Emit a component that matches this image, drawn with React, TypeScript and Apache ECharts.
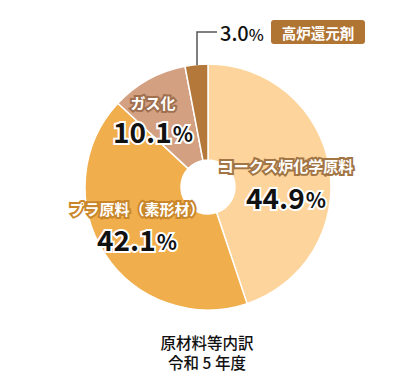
import React, { useEffect, useRef } from "react";
import * as echarts from "echarts";

const categories = ["コークス炉化学原料", "プラ原料（素形材）", "ガス化", "高炉還元剤"];
const values = [44.9, 42.1, 10.1, 3.0];
const titleLines = ["原材料等内訳", "令和 5 年度"];

const sliceColors = ["#FDD49B", "#F0AE4C", "#D3A082", "#B3783A"];
const outlineColors = ["#A27545", "#C9862A", "#A0704F"];
// label anchor positions (name center, percent center) for the three large slices
const labelPos = [
  { x: 286, yName: 165, yVal: 197 },
  { x: 137, yName: 208, yVal: 239 },
  { x: 153, yName: 102, yVal: 131 },
];

const FONT = '"Noto Sans CJK JP", "Noto Sans", sans-serif';

function outlinedText(x: number, y: number, text: string, rich: any, baseStyle: any, stroke: string, fill: string, lw: number) {
  const mk = (isStroke: boolean) => {
    const r: any = {};
    Object.keys(rich || {}).forEach((k) => {
      r[k] = {
        ...rich[k],
        fill: isStroke ? stroke : fill,
        stroke: isStroke ? stroke : undefined,
        lineWidth: isStroke ? lw : 0,
      };
    });
    return {
      type: "text",
      x,
      y,
      z: isStroke ? 100 : 101,
      silent: true,
      style: {
        text,
        ...baseStyle,
        fill: isStroke ? stroke : fill,
        stroke: isStroke ? stroke : undefined,
        lineWidth: isStroke ? lw : 0,
        rich: rich ? r : undefined,
      },
    };
  };
  return [mk(true), mk(false)];
}

export default function App() {
  const ref = useRef<HTMLDivElement>(null);
  useEffect(() => {
    document.body.style.margin = "0";
    const chart = echarts.init(ref.current!, null, { renderer: "svg" });
    const graphics: any[] = [];
    labelPos.forEach((p, i) => {
      graphics.push(
        ...outlinedText(
          p.x,
          p.yName,
          categories[i],
          null,
          { fontSize: 15, fontWeight: "bold", fontFamily: FONT, align: "center", verticalAlign: "middle" },
          outlineColors[i],
          "#fff",
          4
        )
      );
      graphics.push(
        ...outlinedText(
          p.x,
          p.yVal,
          `{n|${values[i].toFixed(1)}}{p|%}`,
          {
            n: { fontSize: 28, fontWeight: "bold", fontFamily: FONT },
            p: { fontSize: 21, fontWeight: "bold", fontFamily: FONT, padding: [4, 0, 0, 1] },
          },
          { align: "center", verticalAlign: "middle" },
          "#fff",
          "#111",
          4
        )
      );
    });
    // small slice label with leader line
    graphics.push({
      type: "polyline",
      z: 100,
      shape: { points: [[197, 65], [197, 32], [217, 32]] },
      style: { stroke: "#555", lineWidth: 1.5, fill: null },
    });
    graphics.push({
      type: "text",
      x: 220,
      y: 32,
      z: 100,
      style: {
        text: `{n|${values[3].toFixed(1)}}{p|%}`,
        align: "left",
        verticalAlign: "middle",
        rich: {
          n: { fontSize: 20, fontWeight: 500, fontFamily: FONT, fill: "#111" },
          p: { fontSize: 16, fontWeight: 500, fontFamily: FONT, fill: "#111", padding: [3, 0, 0, 0] },
        },
      },
    });
    graphics.push({
      type: "rect",
      z: 100,
      shape: { x: 271, y: 20, width: 94, height: 24, r: 3 },
      style: { fill: "#B07433" },
    });
    graphics.push({
      type: "text",
      x: 318,
      y: 32,
      z: 101,
      style: {
        text: categories[3],
        fill: "#fff",
        fontSize: 14.5,
        fontWeight: "bold",
        fontFamily: FONT,
        align: "center",
        verticalAlign: "middle",
      },
    });
    titleLines.forEach((t, i) => {
      graphics.push({
        type: "text",
        x: 207,
        y: 342 + i * 20,
        z: 100,
        style: {
          text: t,
          fill: "#111",
          fontSize: 15.5,
          fontWeight: 500,
          fontFamily: FONT,
          align: "center",
          verticalAlign: "middle",
        },
      });
    });

    chart.setOption({
      animation: false,
      backgroundColor: "#fff",
      series: [
        {
          type: "pie",
          z: 1,
          center: [208, 187],
          radius: [27, 123],
          startAngle: 90,
          clockwise: true,
          label: { show: false },
          labelLine: { show: false },
          emphasis: { disabled: true },
          itemStyle: { borderColor: "#fff", borderWidth: 1.5 },
          data: categories.map((c, i) => ({
            name: c,
            value: values[i],
            itemStyle: { color: sliceColors[i] },
          })),
        },
      ],
      graphic: graphics,
    });
    return () => chart.dispose();
  }, []);
  return <div ref={ref} style={{ width: 412, height: 387 }} />;
}
